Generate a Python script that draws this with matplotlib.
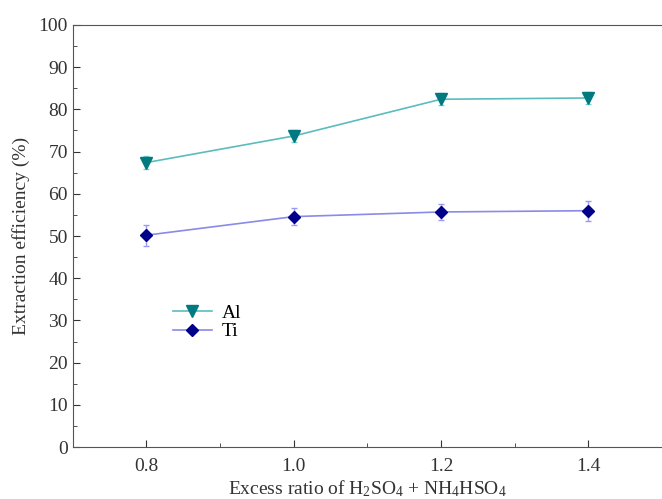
import numpy as np
import matplotlib
matplotlib.use('Agg')
import matplotlib.pyplot as plt
from matplotlib.ticker import MultipleLocator
from matplotlib.lines import Line2D

x = [0.8, 1.0, 1.2, 1.4]
al = [67.4, 73.7, 82.4, 82.7]
al_err = [1.5, 1.5, 1.4, 1.5]
ti = [50.2, 54.6, 55.7, 56.0]
ti_err = [2.5, 2.0, 1.9, 2.4]

plt.rcParams['font.family'] = 'Liberation Serif'
plt.rcParams['mathtext.fontset'] = 'custom'
plt.rcParams['mathtext.rm'] = 'Liberation Serif'
plt.rcParams['mathtext.it'] = 'Liberation Serif:italic'
plt.rcParams['mathtext.default'] = 'rm'

fig = plt.figure(figsize=(6.62, 4.99), dpi=100)
ax = fig.add_axes([0.110, 0.104, 0.890, 0.846])

al_c, al_l = '#007a80', '#5cbcbc'
ti_c, ti_l = '#00008b', '#8a8ae8'

ax.errorbar(x, al, yerr=al_err, color=al_l, lw=1.2, marker='v', ms=8,
            mfc=al_c, mec=al_c, ecolor='#7fcfcf', elinewidth=1, capsize=2.5)
ax.errorbar(x, ti, yerr=ti_err, color=ti_l, lw=1.2, marker='D', ms=6.5,
            mfc=ti_c, mec=ti_c, ecolor='#9a9af0', elinewidth=1, capsize=2.5)

ax.set_xlim(0.7, 1.5)
ax.set_ylim(0, 100)
ax.set_xticks(x)
ax.xaxis.set_minor_locator(MultipleLocator(0.1))
ax.yaxis.set_major_locator(MultipleLocator(10))
ax.yaxis.set_minor_locator(MultipleLocator(5))
ax.tick_params(which='both', direction='in', top=False, right=False, labelsize=14, colors='#333333')
ax.tick_params(which='major', length=5)
ax.tick_params(axis='x', pad=8)
ax.tick_params(which='minor', length=3)
for s in ax.spines.values():
    s.set_color('#555555')
ax.spines['right'].set_visible(False)

ax.set_xlabel('Excess ratio of H$_2$SO$_4$ + NH$_4$HSO$_4$', fontsize=14, labelpad=2, color='#333333')
ax.set_ylabel('Extraction efficiency (%)', fontsize=14, labelpad=6, color='#333333')

handles = [Line2D([], [], color=al_l, lw=1.2, marker='v', ms=8, mfc=al_c, mec=al_c),
           Line2D([], [], color=ti_l, lw=1.2, marker='D', ms=6.5, mfc=ti_c, mec=ti_c)]
ax.legend(handles, ['Al', 'Ti'], loc='upper left', bbox_to_anchor=(0.14, 0.38), frameon=False,
          fontsize=14, handlelength=2.0, labelspacing=0.05, handletextpad=0.5)

fig.savefig('out.png', dpi=100)
